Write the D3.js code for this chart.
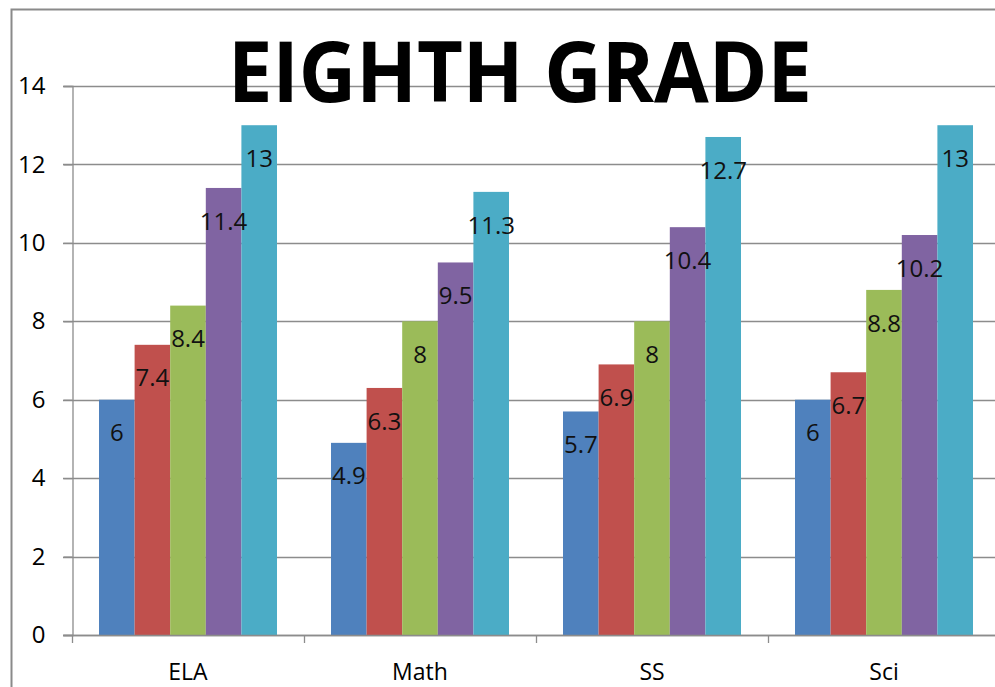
<!DOCTYPE html>
<html>
  <head>
    <meta charset="utf-8">
    <title>Eighth grade</title>
    <script src="https://d3js.org/d3.v7.min.js"></script>
    <style>
      body { margin: 0; background: #fff; }
      text { font-family: "Open Sans", "DejaVu Sans", sans-serif; fill: #000; }
      .grid line { stroke: #8c8c8c; stroke-width: 1.3; }
    </style>
  </head>
  <body>
    <div id="chart"></div>
    <script>

      // chart data
      var categories = ["ELA", "Math", "SS", "Sci"];
      var seriesNames = ["Series 1", "Series 2", "Series 3", "Series 4", "Series 5"];
      var seriesValues = [
        [6, 4.9, 5.7, 6],
        [7.4, 6.3, 6.9, 6.7],
        [8.4, 8, 8, 8.8],
        [11.4, 9.5, 10.4, 10.2],
        [13, 11.3, 12.7, 13]
      ];
      var yTicks = [0, 2, 4, 6, 8, 10, 12, 14];
      var seriesColors = ["#4f81bd", "#c0504d", "#9bbb59", "#8064a2", "#4bacc6"];

      var width = 995,
        height = 687;

      var svg = d3.select("#chart")
        .append("svg")
          .attr("width", width)
          .attr("height", height);

      var x = d3.scaleBand()
        .domain(categories)
        .range([72, 1000])
        .padding(0);

      var xInner = d3.scaleBand()
        .domain(d3.range(seriesNames.length))
        .range([27, x.bandwidth() - 27])
        .padding(0);

      var y = d3.scaleLinear()
        .domain([0, 14])
        .range([635, 86]);

      // outer frame of the chart area (cropped at right and bottom)
      svg.append("path")
        .attr("d", "M11.5," + height + "V9.5H" + width)
        .attr("fill", "none")
        .attr("stroke", "#8a8a8a")
        .attr("stroke-width", 2);

      // horizontal gridlines
      svg.append("g")
        .attr("class", "grid")
        .selectAll("line")
        .data(yTicks)
        .enter().append("line")
          .attr("x1", 63)
          .attr("x2", width)
          .attr("y1", (d) => Math.round(y(d)) + 0.5)
          .attr("y2", (d) => Math.round(y(d)) + 0.5);

      // y axis
      var yAxis = svg.append("g")
        .attr("transform", "translate(72.5,0)")
        .call(d3.axisLeft(y).tickValues(yTicks).tickSize(9).tickPadding(18).tickFormat(d3.format("d")));
      yAxis.select(".domain").attr("stroke", "#8c8c8c").attr("stroke-width", 1.3);
      yAxis.selectAll(".tick line").attr("stroke", "#8c8c8c").attr("stroke-width", 1.3);
      yAxis.selectAll("text")
        .style("font-size", "24px")
        .style("font-family", "'Open Sans', sans-serif")
        .attr("fill", "#000");

      // category boundary ticks
      svg.append("g")
        .attr("class", "grid")
        .selectAll("line")
        .data(categories)
        .enter().append("line")
          .attr("x1", (d) => Math.round(x(d)) + 0.5)
          .attr("x2", (d) => Math.round(x(d)) + 0.5)
          .attr("y1", y(0))
          .attr("y2", y(0) + 8);

      // bars
      var groups = svg.append("g")
        .selectAll("g")
        .data(categories)
        .enter().append("g")
          .attr("transform", (d) => "translate(" + x(d) + ",0)");

      groups.selectAll("rect")
        .data((d, ci) => seriesValues.map((vals, si) => ({ s: si, v: vals[ci] })))
        .enter().append("rect")
          .attr("x", (d) => xInner(d.s))
          .attr("width", xInner.bandwidth())
          .attr("y", (d) => y(d.v))
          .attr("height", (d) => y(0) - y(d.v))
          .attr("fill", (d) => seriesColors[d.s]);

      // x axis baseline drawn over the bars' bottoms
      svg.append("line")
        .attr("x1", 63)
        .attr("x2", width)
        .attr("y1", Math.round(y(0)) + 0.5)
        .attr("y2", Math.round(y(0)) + 0.5)
        .attr("stroke", "#8c8c8c")
        .attr("stroke-width", 1.3);

      // data labels
      groups.selectAll("text.value")
        .data((d, ci) => seriesValues.map((vals, si) => ({ s: si, v: vals[ci] })))
        .enter().append("text")
          .attr("class", "value")
          .attr("x", (d) => xInner(d.s) + xInner.bandwidth() / 2)
          .attr("y", (d) => y(d.v) + 33)
          .attr("dy", "0.36em")
          .attr("text-anchor", "middle")
          .style("font-size", "24px")
          .style("fill", "#111")
          .text((d) => d.v);

      // category labels
      svg.append("g")
        .selectAll("text")
        .data(categories)
        .enter().append("text")
          .attr("x", (d) => x(d) + x.bandwidth() / 2)
          .attr("y", 672)
          .attr("dy", "0.36em")
          .attr("text-anchor", "middle")
          .style("font-size", "23px")
          .text((d) => d);

      // title
      svg.append("text")
        .attr("x", 520)
        .attr("y", 102)
        .attr("text-anchor", "middle")
        .attr("textLength", 584)
        .attr("lengthAdjust", "spacingAndGlyphs")
        .style("font-size", "84px")
        .style("font-weight", "bold")
        .text("EIGHTH GRADE");

    </script>
  </body>
</html>
